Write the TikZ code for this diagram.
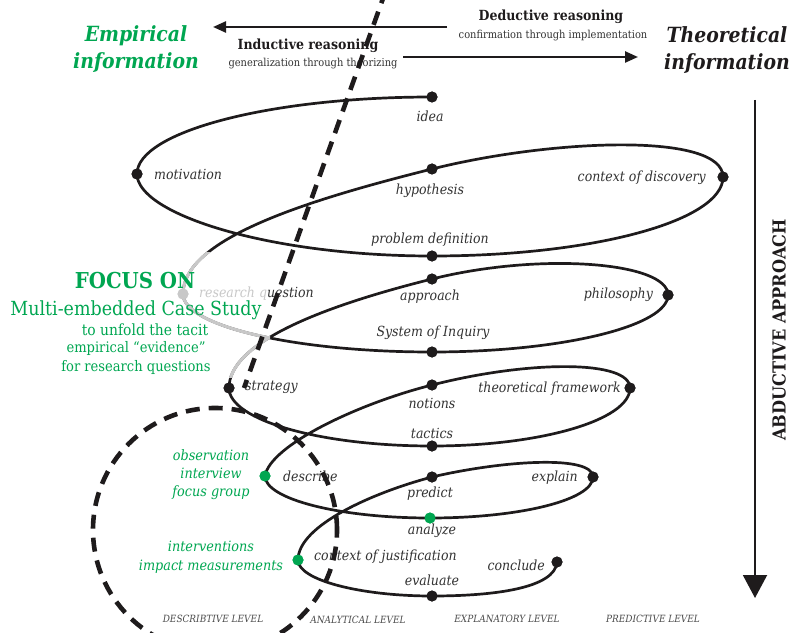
\documentclass[tikz,border=0pt]{standalone}
\usepackage{fontspec}
\setmainfont{DejaVu Serif Condensed}
\usetikzlibrary{arrows.meta}

\definecolor{leafgreen}{RGB}{0,166,81}
\definecolor{inkdark}{RGB}{30,27,28}
\definecolor{labelgray}{RGB}{50,50,50}
\definecolor{fadegray}{RGB}{200,200,200}
\definecolor{levelgray}{RGB}{75,75,75}

\newcommand{\spiralpath}{%
  (idea.center) .. controls (269,97) and (137,132) .. (motiv.center)
  .. controls (137,214) and (269,256) .. (probdef.center)
  .. controls (593,256) and (723,221) .. (discov.center)
  .. controls (723,132) and (552,139) .. (hypo.center)
  .. controls (300,202) and (183,240) .. (resq.center)
  .. controls (183,326) and (295,352) .. (inquiry.center)
  .. controls (562,352) and (668,326) .. (philo.center)
  .. controls (668,262) and (540,252) .. (approach.center)
  .. controls (312,309) and (229,345) .. (strat.center)
  .. controls (229,420) and (320,446) .. (tactics.center)
  .. controls (541,446) and (630,420) .. (theofw.center)
  .. controls (630,360) and (530,360) .. (notions.center)
  .. controls (360,403) and (270,445) .. (describe.center)
  .. controls (265,499) and (339,518) .. (analyze.center)
  .. controls (520,518) and (593,500) .. (explain.center)
  .. controls (593,455) and (505,460) .. (predict.center)
  .. controls (375,492) and (298,525) .. (justif.center)
  .. controls (298,580) and (360,596) .. (evaluate.center)
  .. controls (495,596) and (555,588) .. (conclude.center)}

\tikzset{
  spot/.style={circle, fill=inkdark, inner sep=0pt, minimum size=11bp},
  greenspot/.style={spot, fill=leafgreen},
  fadespot/.style={spot, fill=fadegray},
  spiral/.style={line width=2.7bp, draw=inkdark},
  fadespiral/.style={line width=3.1bp, draw=fadegray},
  lbl/.style={font=\fontsize{14}{16}\selectfont\itshape, text=labelgray, inner sep=0pt},
  greenlbl/.style={font=\fontsize{14.3}{18}\selectfont\itshape, text=leafgreen, inner sep=0pt, align=center},
  levellbl/.style={font=\fontsize{10}{12}\selectfont\itshape, text=levelgray, inner sep=0pt},
  bigtitle/.style={font=\fontsize{21}{28}\selectfont\bfseries\itshape, inner sep=0pt, align=center},
  reasonhead/.style={font=\fontsize{14}{16}\selectfont\bfseries, text=inkdark, inner sep=0pt},
  reasonsub/.style={font=\fontsize{11}{13}\selectfont, text=labelgray, inner sep=0pt},
  focustext/.style={text=leafgreen, inner sep=0pt},
  flowarrow/.style={line width=2.4bp, draw=inkdark, -{Triangle[length=13bp,width=11bp]}},
  bigdash/.style={line width=4.6bp, draw=inkdark, dash pattern=on 14bp off 9bp},
}

\begin{document}
\begin{tikzpicture}[x=1bp, y=-1bp]
\useasboundingbox (0,0) rectangle (792,633);

% ---- spiral stations ----
\node[spot] (idea)     at (432,97)  {};
\node[spot] (motiv)    at (137,174) {};
\node[spot] (probdef)  at (432,256) {};
\node[spot] (discov)   at (723,177) {};
\node[spot] (hypo)     at (432,169) {};
\node[fadespot] (resq) at (183,294) {};
\node[spot] (inquiry)  at (432,352) {};
\node[spot] (philo)    at (668,295) {};
\node[spot] (approach) at (432,279) {};
\node[spot] (strat)    at (229,388) {};
\node[spot] (tactics)  at (432,446) {};
\node[spot] (theofw)   at (630,388) {};
\node[spot] (notions)  at (432,385) {};
\node[greenspot] (describe) at (265,476) {};
\node[greenspot] (analyze)  at (430,518) {};
\node[spot] (explain)  at (593,477) {};
\node[spot] (predict)  at (432,477) {};
\node[greenspot] (justif)   at (298,560) {};
\node[spot] (evaluate) at (432,596) {};
\node[spot] (conclude) at (557,562) {};

% ---- the spiral itself, faded where it passes behind the focus text ----
\draw[spiral] \spiralpath;
\begin{scope}
  \clip (150,252) rectangle (270,377);
  \draw[fadespiral] \spiralpath;
\end{scope}

% redraw stations on top of the curve
\foreach \n in {idea,motiv,probdef,discov,hypo,inquiry,philo,approach,strat,tactics,theofw,notions,explain,predict,evaluate,conclude}
  \fill[inkdark] (\n.center) circle (5.5bp);
\foreach \n in {describe,analyze,justif}
  \fill[leafgreen] (\n.center) circle (5.5bp);
\fill[fadegray] (resq.center) circle (5.5bp);

% ---- station labels ----
\node[lbl] (l-idea)   at (430,116) {idea};
\node[lbl, anchor=west] (l-motiv) at (154,174) {motivation};
\node[lbl] (l-hypo)   at (430,191) {hypothesis};
\node[lbl, anchor=east] (l-discov) at (706,178) {context of discovery};
\node[lbl] (l-prob)   at (430,240) {problem definition};
\node[lbl, anchor=west] (l-resq) at (199,294) {{\color{fadegray}research q}uestion};
\node[lbl] (l-appr)   at (430,297) {approach};
\node[lbl, anchor=east] (l-philo) at (653,295) {philosophy};
\node[lbl] (l-inq)    at (433,333) {System of Inquiry};
\node[lbl, anchor=west] (l-strat) at (245,387) {strategy};
\node[lbl] (l-notions) at (432,403) {notions};
\node[lbl, anchor=east] (l-theofw) at (621,389) {theoretical framework};
\node[lbl] (l-tactics) at (432,433) {tactics};
\node[lbl, anchor=west] (l-desc) at (283,476) {describe};
\node[lbl] (l-pred)   at (430,494) {predict};
\node[lbl, anchor=east] (l-expl) at (578,478) {explain};
\node[lbl] (l-anal)   at (432,531) {analyze};
\node[lbl, anchor=west] (l-justif) at (314,557) {context of justification};
\node[lbl] (l-eval)   at (432,580) {evaluate};
\node[lbl, anchor=east] (l-concl) at (545,565) {conclude};

% ---- empirical methods ----
\node[greenlbl] (methods1) at (211,475) {observation\\interview\\focus group};
\node[greenlbl, font=\fontsize{14.3}{19}\selectfont\itshape] (methods2) at (211,557) {interventions\\impact measurements};

% ---- research levels ----
\node[levellbl] (lev1) at (213,619) {DESCRIBTIVE LEVEL};
\node[levellbl] (lev2) at (358,620) {ANALYTICAL LEVEL};
\node[levellbl] (lev3) at (507,619) {EXPLANATORY LEVEL};
\node[levellbl] (lev4) at (653,619) {PREDICTIVE LEVEL};

% ---- focus block ----
\node[focustext, font=\fontsize{22}{25}\selectfont\bfseries] (focus) at (135,281) {FOCUS ON};
\node[focustext, font=\fontsize{19.5}{22}\selectfont] (mecs) at (136,310) {Multi-embedded Case Study};
\node[focustext, font=\fontsize{15.5}{17}\selectfont] (unfold1) at (145,330) {to unfold the tacit};
\node[focustext, font=\fontsize{14.6}{17}\selectfont] (unfold2) at (136,348) {empirical “evidence”};
\node[focustext, font=\fontsize{14.6}{17}\selectfont] (unfold3) at (136,367) {for research questions};

% ---- information poles ----
\node[bigtitle, text=leafgreen] (empir) at (136,49) {Empirical\\information};
\node[bigtitle, text=inkdark] (theor) at (727,50) {Theoretical\\information};

% ---- reasoning directions ----
\node[reasonhead] (deduct) at (551,17) {Deductive reasoning};
\node[reasonsub] (deductsub) at (553,36) {confirmation through implementation};
\node[reasonhead] (induct) at (308,46) {Inductive reasoning};
\node[reasonsub] (inductsub) at (313,64) {generalization through theorizing};

\coordinate (indstart) at (447,27);
\coordinate (indend) at (213,27);
\coordinate (dedstart) at (403,57);
\coordinate (dedend) at (638,57);
\draw[flowarrow] (indstart) -- (indend);
\draw[flowarrow] (dedstart) -- (dedend);

% ---- abductive axis ----
\coordinate (abdtop) at (755,100);
\coordinate (abdbot) at (755,598);
\draw[line width=2bp, draw=inkdark, -{Triangle[length=23bp,width=24bp]}] (abdtop) -- (abdbot);
\node[rotate=90, font=\fontsize{18}{20}\selectfont\bfseries, text=inkdark, inner sep=0pt] (abd) at (779,330) {ABDUCTIVE APPROACH};

% ---- dashed boundary of the case study ----
\coordinate (cuttop) at (386,-10);
\coordinate (cutend) at (244,388);
\draw[bigdash] (cuttop) -- (cutend);
\node[circle, minimum size=244bp, inner sep=0pt, bigdash] (caseloop) at (215,530) {};

\end{tikzpicture}
\end{document}
